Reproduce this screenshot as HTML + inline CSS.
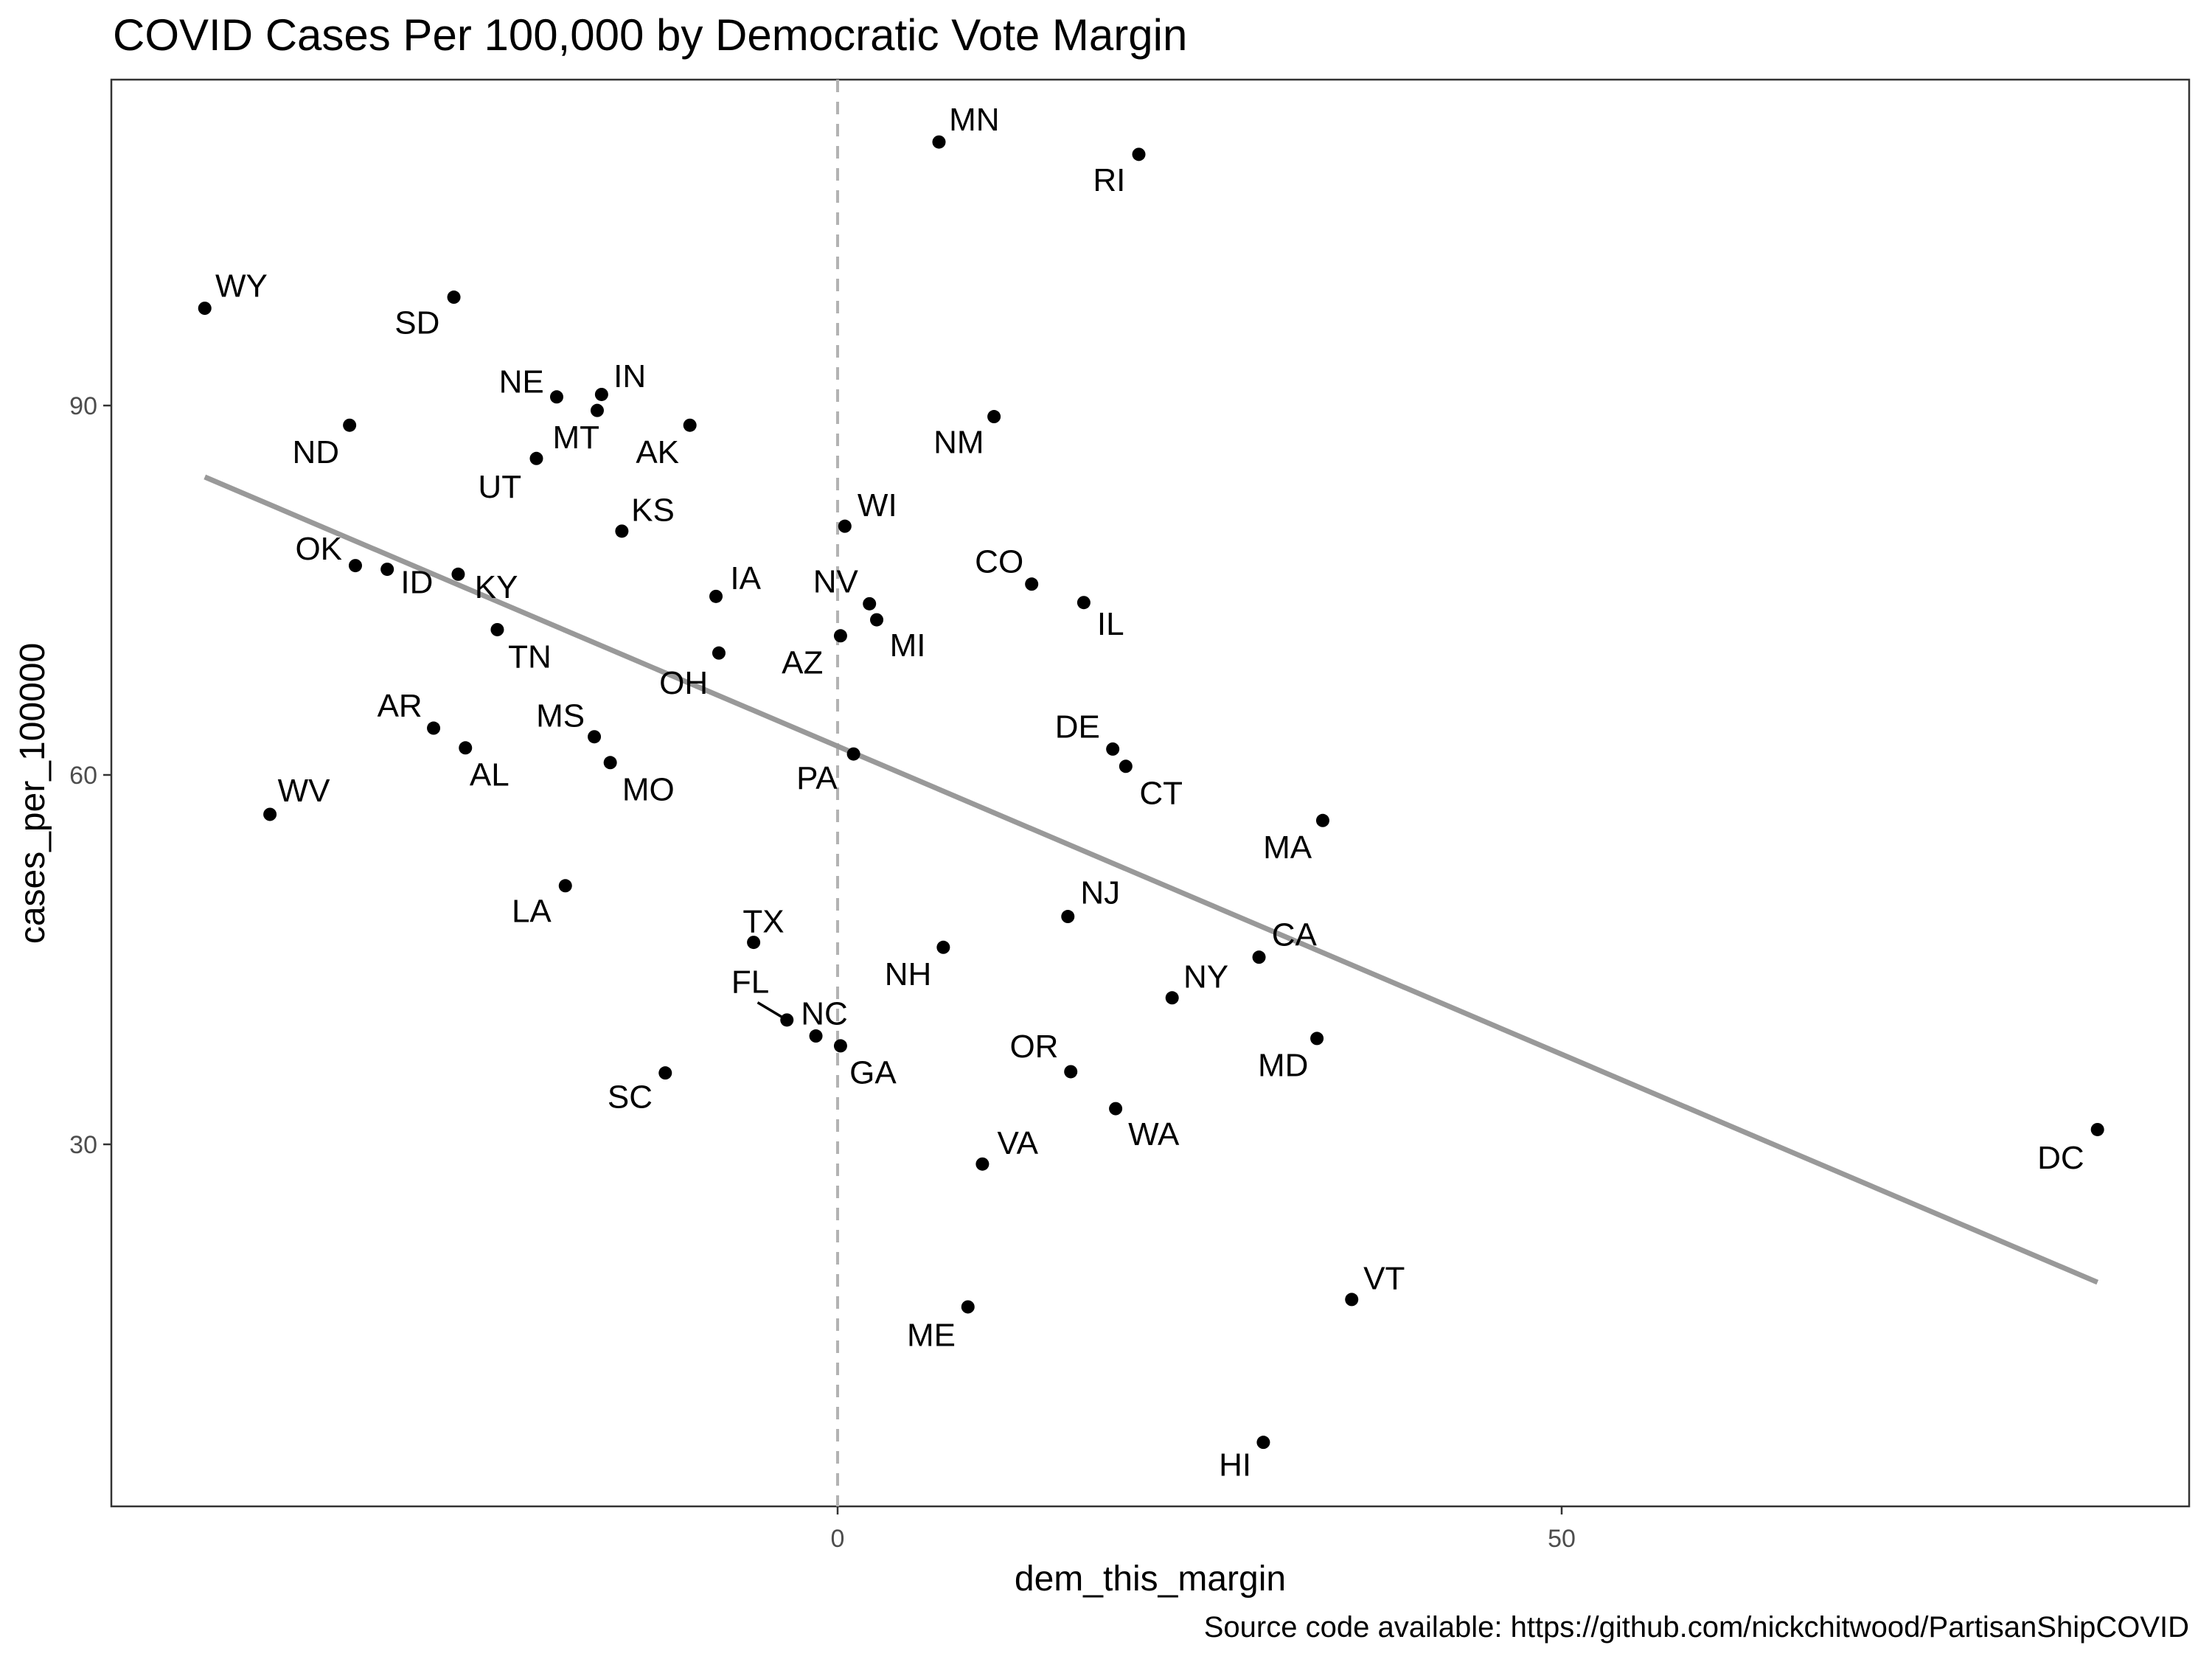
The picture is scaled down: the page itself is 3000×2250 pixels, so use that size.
<!DOCTYPE html>
<html><head><meta charset="utf-8"><style>
html,body{margin:0;padding:0;background:#fff}
svg{display:block;font-family:"Liberation Sans",sans-serif}
</style></head><body>
<svg id="chart" width="3000" height="2250" viewBox="0 0 3000 2250">
<text x="153" y="68" font-size="60" fill="#000">COVID Cases Per 100,000 by Democratic Vote Margin</text>
<rect x="151" y="108" width="2818" height="1935" fill="#fff" stroke="#333" stroke-width="2.5"/>
<g id="marks"></g>
<text x="1560" y="2157" font-size="48" text-anchor="middle" fill="#000">dem_this_margin</text>
<text transform="translate(60,1076) rotate(-90)" font-size="48" text-anchor="middle" fill="#000">cases_per_100000</text>
<text x="2969" y="2220" font-size="40" text-anchor="end" fill="#000">Source code available: https://github.com/nickchitwood/PartisanShipCOVID</text>
</svg>
<script>
const states = ["WY","SD","NE","IN","MT","ND","AK","UT","NM","MN","RI","KS","WI","OK","ID","KY","CO","IL","NV","IA","MI","TN","AZ","OH","AR","MS","AL","MO","PA","DE","CT","WV","MA","LA","NJ","TX","NH","CA","NY","FL","NC","GA","MD","OR","SC","WA","VA","DC","VT","ME","HI"];
const margins = [-43.7,-26.5,-19.4,-16.3,-16.6,-33.7,-10.2,-20.8,10.8,7.0,20.8,-14.9,0.5,-33.3,-31.1,-26.2,13.4,17.0,2.2,-8.4,2.7,-23.5,0.2,-8.2,-27.9,-16.8,-25.7,-15.7,1.1,19.0,19.9,-39.2,33.5,-18.8,15.9,-5.8,7.3,29.1,23.1,-3.5,-1.5,0.2,33.1,16.1,-11.9,19.2,10.0,87.0,35.5,9.0,29.4];
const cases = [97.9,98.8,90.7,90.9,89.6,88.4,88.4,85.7,89.1,111.4,110.4,79.8,80.2,77.0,76.7,76.3,75.5,74.0,73.9,74.5,72.6,71.8,71.3,69.9,63.8,63.1,62.2,61.0,61.7,62.1,60.7,56.8,56.3,51.0,48.5,46.4,46.0,45.2,41.9,40.1,38.8,38.0,38.6,35.9,35.8,32.9,28.4,31.2,17.4,16.8,5.8];
const xTicks = [0,50];
const yTicks = [30,60,90];
const trendX = [-43.7,87.0];
const trendY = [84.2,18.8];
// label offsets (display layout, not data)
const labelOffsets = {WY:[26,-16],SD:[-26,18],NE:[-25,-11],IN:[20,-13],MT:[-15,19],ND:[-24,19],AK:[-23,19],UT:[-26,20],NM:[-25,18],MN:[25,-16],RI:[-21,18],KS:[22,-15],WI:[23,-15],OK:[-26,-12],ID:[21,9],KY:[27,9],CO:[-23,-16],IL:[19,15],NV:[-24,-16],IA:[21,-13],MI:[22,18],TN:[23,19],AZ:[-27,19],OH:[-25,21],AR:[-24,-16],MS:[-24,-15],AL:[17,19],MO:[27,19],PA:[-26,17],DE:[-25,-16],CT:[25,19],WV:[24,-17],MA:[-25,19],LA:[-24,18],NJ:[23,-17],TX:[7,-15],NH:[-25,19],CA:[25,-16],NY:[24,-15],FL:[-26,-27],NC:[6,-16],GA:[23,19],MD:[-24,19],OR:[-26,-18],SC:[-25,17],WA:[27,18],VA:[25,-15],DC:[-26,20],VT:[23,-15],ME:[-26,20],HI:[-20,16]};
const S = 1.913;
const X0 = 1136, XU = 19.64, Y60 = 1051, YU = 16.7;
function sx(v){return X0 + v*XU;}
function sy(v){return Y60 - (v-60)*YU;}
const NS = "http://www.w3.org/2000/svg";
const g = document.getElementById('marks');
function mk(tag, attrs){const e=document.createElementNS(NS,tag);for(const k in attrs)e.setAttribute(k,attrs[k]);return e;}
const vl = mk('line',{x1:sx(0),x2:sx(0),y1:108,y2:2043,stroke:'#b3b3b3','stroke-width':4,'stroke-dasharray':'17 13'});


g.appendChild(vl);
xTicks.forEach(t=>{
  const l = mk('line',{x1:sx(t),x2:sx(t),y1:2043,y2:2054,stroke:'#333','stroke-width':2.5});
  
  
  g.appendChild(l);
  const tx = mk('text',{x:sx(t),y:2098,'font-size':34,'text-anchor':'middle',fill:'#4d4d4d'});
  tx.textContent = t;
  
  
  g.appendChild(tx);
});
yTicks.forEach(t=>{
  const l = mk('line',{x1:140,x2:151,y1:sy(t),y2:sy(t),stroke:'#333','stroke-width':2.5});
  
  
  g.appendChild(l);
  const tx = mk('text',{x:132,y:sy(t)+12,'font-size':34,'text-anchor':'end',fill:'#4d4d4d'});
  tx.textContent = t;
  
  
  g.appendChild(tx);
});
const tl = mk('line',{x1:sx(trendX[0]),y1:sy(trendY[0]),x2:sx(trendX[1]),y2:sy(trendY[1]),stroke:'#999','stroke-width':7});


g.appendChild(tl);
states.forEach((s,i)=>{
  const px = sx(margins[i]), py = sy(cases[i]);
  const off = labelOffsets[s] || [20,-15];
  const lx = px + off[0]*S, ly = py + off[1]*S;
  if (s === 'FL') {
    const ln = mk('line',{x1:px,y1:py,x2:lx+10,y2:ly+28,stroke:'#000','stroke-width':3.5});
    
    
    g.appendChild(ln);
  }
  const c = mk('circle',{cx:px,cy:py,r:9,fill:'#000'});
  
  
  g.appendChild(c);
  const t = mk('text',{x:lx,y:ly+15,'font-size':44,'text-anchor':'middle',fill:'#000'});
  t.textContent = s;
  
  
  g.appendChild(t);
});
</script>
</body></html>
